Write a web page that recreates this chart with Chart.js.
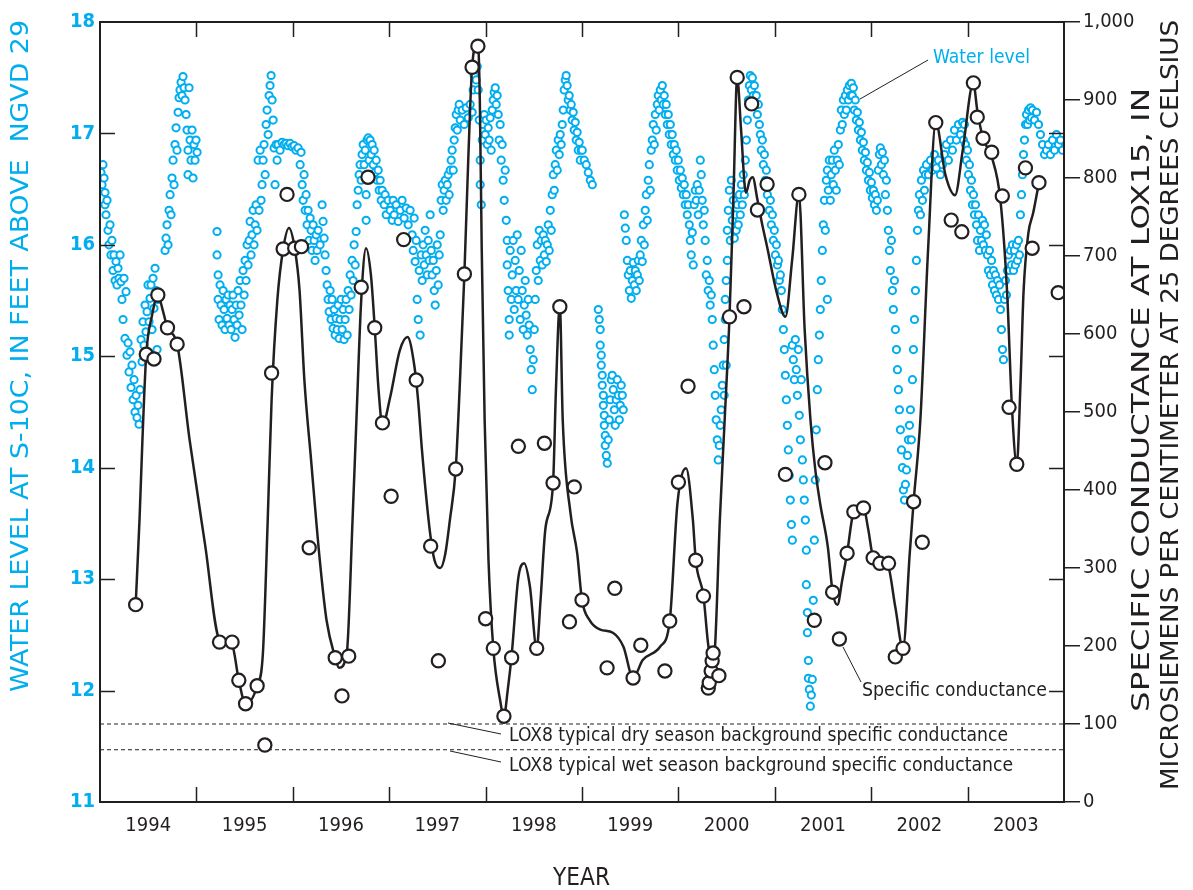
<!DOCTYPE html>
<html>
<head>
<meta charset="utf-8">
<script src="https://cdn.jsdelivr.net/npm/chart.js@4.4.1/dist/chart.umd.min.js"></script>
<style>
  html, body { margin: 0; padding: 0; background: #fff; }
  #chart { display: block; }
</style>
</head>
<body>
<canvas id="chart" width="1193" height="890"></canvas>
<script>
/*===== DATA =====*/
const years = [1994, 1995, 1996, 1997, 1998, 1999, 2000, 2001, 2002, 2003];
const levelTicks = [11, 12, 13, 14, 15, 16, 17, 18];
const condTicks = [0, 100, 200, 300, 400, 500, 600, 700, 800, 900, 1000];

// LOX8 typical background specific conductance
const dryBackground = 100;
const wetBackground = 67;

// water level at S-10C, [decimal year, feet above NGVD 29]
const waterLevel = [
  [1994.010,16.65],[1994.021,16.54],[1994.031,16.72],[1994.042,16.60],[1994.052,16.47],[1994.052,16.36],[1994.062,16.27],[1994.073,16.40],
  [1994.083,16.13],[1994.093,16.00],[1994.104,16.18],[1994.114,15.91],[1994.124,16.04],[1994.135,15.77],[1994.145,15.91],[1994.156,15.68],
  [1994.166,15.85],[1994.176,15.64],[1994.187,15.79],[1994.197,15.70],[1994.208,15.91],[1994.218,15.67],[1994.228,15.51],[1994.239,15.33],
  [1994.249,15.70],[1994.259,15.16],[1994.270,15.58],[1994.280,15.01],[1994.291,15.12],[1994.301,14.86],[1994.311,15.04],[1994.322,14.72],
  [1994.332,14.92],[1994.343,14.61],[1994.353,14.79],[1994.363,14.50],[1994.374,14.65],[1994.384,14.45],[1994.394,14.56],[1994.405,14.39],
  [1994.415,14.70],[1994.426,15.15],[1994.436,14.95],[1994.446,15.31],[1994.457,15.10],[1994.467,15.46],[1994.477,15.22],[1994.488,15.40],
  [1994.498,15.64],[1994.509,15.31],[1994.519,15.52],[1994.529,15.64],[1994.540,15.24],[1994.550,15.70],[1994.560,15.43],[1994.571,15.79],
  [1994.581,15.59],[1994.592,15.06],[1994.602,15.51],
  [1994.675,15.95],[1994.685,16.06],[1994.695,16.18],[1994.706,16.00],[1994.716,16.31],[1994.727,16.45],[1994.737,16.27],[1994.747,16.60],
  [1994.758,16.76],[1994.768,16.54],[1994.778,16.90],[1994.789,17.05],[1994.799,16.85],[1994.810,17.19],[1994.820,17.32],[1994.830,17.39],
  [1994.841,17.46],[1994.851,17.34],[1994.861,17.51],[1994.872,17.41],[1994.882,17.30],[1994.893,17.17],[1994.903,17.03],[1994.913,16.85],
  [1994.913,16.63],[1994.924,17.41],[1994.934,16.94],[1994.944,16.76],[1994.955,17.03],[1994.965,16.60],[1994.975,16.90],[1994.986,16.76],
  [1994.996,16.94],[1995.007,16.83],
  [1995.214,16.12],[1995.214,15.91],[1995.225,15.73],[1995.225,15.51],[1995.235,15.33],[1995.245,15.64],[1995.256,15.46],[1995.266,15.28],
  [1995.277,15.59],[1995.287,15.42],[1995.297,15.24],[1995.308,15.51],[1995.318,15.34],[1995.329,15.55],[1995.339,15.28],[1995.349,15.46],
  [1995.360,15.24],[1995.370,15.42],[1995.380,15.55],[1995.391,15.33],[1995.401,15.17],[1995.412,15.46],[1995.422,15.28],[1995.432,15.59],
  [1995.443,15.37],[1995.453,15.68],[1995.463,15.46],[1995.474,15.24],[1995.484,15.77],[1995.495,15.55],[1995.505,15.86],[1995.515,15.68],
  [1995.526,16.00],[1995.536,15.82],[1995.547,16.04],[1995.557,16.21],[1995.567,15.91],[1995.577,16.09],[1995.588,16.31],[1995.598,16.00],
  [1995.609,16.18],[1995.619,16.36],[1995.629,16.13],[1995.640,16.76],[1995.650,16.31],[1995.661,16.85],[1995.671,16.40],[1995.681,16.54],
  [1995.692,16.76],[1995.702,16.90],[1995.713,16.63],[1995.723,17.08],[1995.733,17.21],[1995.744,16.99],[1995.754,17.34],[1995.764,17.43],
  [1995.775,17.52],[1995.785,17.30],[1995.796,17.12],[1995.806,16.87],[1995.816,16.54],[1995.827,16.90],[1995.837,16.76],[1995.847,16.90],
  [1995.868,16.85],[1995.889,16.92],[1995.910,16.90],[1995.930,16.91],[1995.951,16.89],[1995.972,16.91],[1995.993,16.88],[1996.014,16.89],
  [1996.034,16.85],[1996.055,16.87],[1996.076,16.72],[1996.086,16.83],[1996.097,16.54],[1996.107,16.40],[1996.117,16.63],[1996.128,16.31],
  [1996.138,16.45],[1996.148,16.18],[1996.159,16.31],[1996.169,16.04],[1996.180,16.24],[1996.190,16.13],[1996.200,15.95],[1996.211,16.18],
  [1996.221,16.04],[1996.231,15.86],[1996.242,16.09],[1996.252,15.95],[1996.263,16.13],[1996.283,16.00],
  [1996.304,16.36],[1996.314,16.21],[1996.325,16.06],[1996.335,15.91],[1996.345,15.77],[1996.356,15.64],[1996.366,15.51],[1996.377,15.40],
  [1996.387,15.59],[1996.397,15.33],[1996.408,15.51],[1996.418,15.25],[1996.429,15.42],[1996.439,15.19],[1996.449,15.34],[1996.460,15.24],
  [1996.470,15.46],[1996.481,15.16],[1996.491,15.33],[1996.501,15.51],[1996.512,15.24],[1996.522,15.42],[1996.532,15.15],[1996.543,15.33],
  [1996.553,15.51],[1996.564,15.19],[1996.574,15.59],[1996.584,15.42],[1996.595,15.73],[1996.605,15.55],[1996.615,15.86],[1996.626,15.68],
  [1996.636,16.00],[1996.647,15.82],[1996.657,16.12],[1996.667,16.36],[1996.678,16.49],[1996.688,16.63],[1996.698,16.72],[1996.709,16.58],
  [1996.719,16.81],[1996.730,16.90],[1996.740,16.72],[1996.751,16.85],[1996.761,16.45],[1996.761,16.22],[1996.771,16.94],[1996.782,16.96],
  [1996.792,16.76],[1996.802,16.94],[1996.813,16.81],[1996.823,16.90],[1996.834,16.72],[1996.844,16.85],[1996.854,16.65],[1996.865,16.76],
  [1996.875,16.58],[1996.886,16.67],[1996.896,16.49],[1996.906,16.58],[1996.917,16.40],[1996.927,16.49],[1996.948,16.36],[1996.958,16.45],
  [1996.969,16.27],[1996.989,16.40],[1997.010,16.31],[1997.031,16.22],[1997.041,16.40],[1997.051,16.27],[1997.072,16.36],[1997.093,16.21],
  [1997.114,16.31],[1997.134,16.40],[1997.155,16.24],[1997.176,16.33],[1997.197,16.18],[1997.217,16.31],[1997.238,16.09],[1997.249,15.95],
  [1997.259,16.24],[1997.269,15.85],[1997.280,16.04],[1997.290,15.51],[1997.301,15.33],[1997.311,15.77],[1997.321,15.19],[1997.332,15.91],
  [1997.342,15.68],[1997.352,16.00],[1997.363,15.82],[1997.373,16.13],[1997.384,15.91],[1997.394,15.73],[1997.405,16.04],[1997.415,15.86],
  [1997.425,16.27],[1997.436,15.95],[1997.446,15.73],[1997.457,15.86],[1997.467,15.59],[1997.477,15.46],[1997.488,15.77],[1997.498,16.00],
  [1997.508,15.64],[1997.519,15.91],[1997.529,16.09],[1997.539,16.40],[1997.550,16.54],[1997.560,16.31],[1997.570,16.49],[1997.581,16.58],
  [1997.591,16.40],[1997.602,16.54],[1997.612,16.63],[1997.622,16.45],[1997.633,16.67],[1997.643,16.76],[1997.653,16.85],[1997.664,16.67],
  [1997.674,16.94],[1997.685,17.05],[1997.695,17.17],[1997.706,17.03],[1997.716,17.21],[1997.726,17.26],[1997.737,17.12],[1997.758,17.21],
  [1997.778,17.08],[1997.799,17.23],[1997.820,17.14],[1997.840,17.26],[1997.861,17.19],[1997.871,17.39],[1997.882,17.52],[1997.892,17.59],
  [1997.903,17.48],[1997.913,17.60],[1997.923,17.39],[1997.934,17.12],[1997.944,16.76],[1997.944,16.54],[1997.955,16.36],[1997.965,16.94],
  [1997.975,17.08],[1997.986,17.17],[1997.996,16.99],[1998.006,17.12],[1998.017,16.90],[1998.027,17.05],[1998.037,16.94],[1998.048,17.14],
  [1998.058,16.85],[1998.069,17.21],[1998.079,17.30],[1998.089,17.37],[1998.100,17.41],[1998.110,17.26],[1998.120,17.34],[1998.131,17.17],
  [1998.141,16.94],[1998.151,17.08],[1998.162,16.76],[1998.172,16.90],[1998.182,16.58],[1998.193,16.40],[1998.203,16.67],[1998.214,16.22],
  [1998.224,16.04],[1998.224,15.82],[1998.234,15.59],[1998.245,15.33],[1998.245,15.19],[1998.255,15.95],[1998.266,15.51],[1998.276,15.73],
  [1998.286,16.04],[1998.297,15.42],[1998.307,15.86],[1998.317,15.59],[1998.328,16.09],[1998.338,15.51],[1998.349,15.77],[1998.359,15.33],
  [1998.369,15.95],[1998.380,15.59],[1998.390,15.24],[1998.401,15.46],[1998.411,15.68],[1998.421,15.37],[1998.432,15.19],[1998.442,15.51],
  [1998.452,15.28],[1998.463,15.06],[1998.473,14.88],[1998.484,14.70],[1998.494,14.97],[1998.505,15.24],[1998.515,15.51],[1998.525,15.77],
  [1998.536,16.00],[1998.546,15.68],[1998.556,16.13],[1998.567,15.86],[1998.577,16.04],[1998.588,15.82],[1998.598,16.09],[1998.608,15.91],
  [1998.619,16.04],[1998.629,15.85],[1998.640,16.00],[1998.650,16.18],[1998.660,15.95],[1998.671,16.31],[1998.681,16.13],[1998.691,16.45],
  [1998.702,16.63],[1998.712,16.49],[1998.722,16.72],[1998.733,16.85],[1998.743,16.67],[1998.753,16.94],[1998.764,16.81],[1998.774,16.99],
  [1998.784,16.90],[1998.795,17.08],[1998.805,17.21],[1998.815,17.39],[1998.826,17.48],[1998.836,17.52],[1998.846,17.43],[1998.857,17.30],
  [1998.867,17.34],[1998.878,17.21],[1998.888,17.26],[1998.898,17.12],[1998.909,17.19],[1998.919,17.03],[1998.930,17.10],[1998.940,16.94],
  [1998.950,17.01],[1998.961,16.85],[1998.971,16.92],[1998.982,16.76],[1998.992,16.85],[1999.003,16.85],[1999.023,16.76],[1999.044,16.72],
  [1999.065,16.65],[1999.086,16.58],[1999.107,16.54],
  [1999.169,15.42],[1999.179,15.33],[1999.189,15.24],[1999.189,15.10],[1999.200,15.01],[1999.200,14.92],[1999.210,14.83],[1999.210,14.74],
  [1999.221,14.65],[1999.221,14.56],[1999.231,14.47],[1999.231,14.38],[1999.241,14.29],[1999.241,14.20],[1999.252,14.11],[1999.262,14.04],
  [1999.272,14.25],[1999.283,14.43],[1999.293,14.61],[1999.304,14.79],[1999.314,14.83],[1999.324,14.70],[1999.335,14.52],[1999.345,14.38],
  [1999.355,14.61],[1999.366,14.79],[1999.376,14.65],[1999.387,14.43],[1999.397,14.56],[1999.407,14.74],[1999.418,14.65],[1999.428,14.52],
  [1999.439,16.27],[1999.449,16.15],[1999.459,16.04],[1999.470,15.86],[1999.480,15.73],[1999.491,15.59],[1999.501,15.77],[1999.511,15.52],
  [1999.522,15.68],[1999.532,15.84],[1999.542,15.64],[1999.553,15.77],[1999.563,15.59],[1999.574,15.73],[1999.584,15.86],[1999.594,15.68],
  [1999.604,15.91],[1999.615,16.04],[1999.625,15.85],[1999.636,16.18],[1999.646,16.00],[1999.656,16.31],[1999.667,16.45],[1999.677,16.22],
  [1999.687,16.58],[1999.698,16.72],[1999.708,16.49],[1999.718,16.85],[1999.729,16.94],[1999.739,17.08],[1999.750,16.90],[1999.760,17.17],
  [1999.770,17.03],[1999.781,17.26],[1999.791,17.34],[1999.801,17.21],[1999.812,17.39],[1999.822,17.30],[1999.833,17.43],[1999.843,17.26],
  [1999.853,17.34],[1999.864,17.17],[1999.874,17.26],[1999.885,17.08],[1999.895,17.17],[1999.905,16.99],[1999.916,17.08],[1999.926,16.90],
  [1999.936,16.99],[1999.947,16.81],[1999.957,16.90],[1999.968,16.76],[1999.978,16.85],[1999.988,16.67],[1999.999,16.76],[2000.009,16.58],
  [2000.020,16.67],[2000.030,16.51],[2000.040,16.60],[2000.051,16.45],[2000.061,16.54],[2000.071,16.36],[2000.082,16.45],[2000.092,16.27],
  [2000.102,16.36],[2000.113,16.18],[2000.123,16.04],[2000.133,15.91],[2000.144,16.11],[2000.154,15.82],[2000.164,16.36],[2000.175,16.49],
  [2000.185,16.40],[2000.195,16.54],[2000.206,16.27],[2000.216,16.49],[2000.227,16.76],[2000.237,16.63],[2000.247,16.40],[2000.258,16.18],
  [2000.268,16.31],[2000.278,16.04],[2000.289,15.73],[2000.299,15.86],[2000.309,15.59],[2000.320,15.68],[2000.330,15.46],[2000.341,15.55],
  [2000.351,15.33],[2000.361,15.10],[2000.372,14.88],[2000.382,14.65],[2000.392,14.43],[2000.403,14.25],[2000.413,14.07],[2000.424,14.20],
  [2000.434,14.38],[2000.444,14.52],[2000.455,14.74],[2000.465,14.92],[2000.475,15.15],[2000.475,14.65],[2000.486,15.33],[2000.486,15.51],
  [2000.496,15.68],[2000.496,14.92],[2000.507,15.86],[2000.507,16.13],[2000.517,16.31],[2000.528,16.49],[2000.538,16.04],[2000.549,16.58],
  [2000.559,16.22],[2000.569,16.40],[2000.580,16.06],[2000.590,16.27],[2000.600,16.13],[2000.611,16.36],[2000.621,16.18],[2000.632,16.45],
  [2000.642,16.27],[2000.653,16.54],[2000.663,16.36],[2000.673,16.63],[2000.684,16.45],[2000.694,16.76],[2000.705,16.94],[2000.715,17.12],
  [2000.726,17.30],[2000.736,17.43],[2000.746,17.52],[2000.757,17.39],[2000.767,17.50],[2000.777,17.34],[2000.788,17.43],[2000.798,17.26],
  [2000.808,17.34],[2000.819,17.17],[2000.829,17.26],[2000.840,17.08],[2000.850,16.99],[2000.860,16.85],[2000.871,16.94],[2000.881,16.72],
  [2000.892,16.81],[2000.902,16.58],[2000.912,16.67],[2000.923,16.45],[2000.933,16.54],[2000.943,16.31],[2000.954,16.40],[2000.964,16.18],
  [2000.975,16.27],[2000.985,16.04],[2000.995,16.13],[2001.006,15.91],[2001.016,16.00],[2001.027,15.82],[2001.037,15.86],[2001.047,15.68],
  [2001.058,15.73],[2001.068,15.59],[2001.078,15.42],[2001.089,15.24],[2001.099,15.06],[2001.109,14.83],[2001.120,14.61],[2001.130,14.38],
  [2001.140,14.16],[2001.151,13.93],[2001.161,13.71],[2001.172,13.49],[2001.182,13.35],[2001.182,15.10],[2001.192,14.97],[2001.203,14.79],
  [2001.213,15.15],[2001.223,14.88],[2001.234,14.65],[2001.244,15.06],[2001.254,14.47],[2001.265,14.25],[2001.275,14.79],[2001.286,14.07],
  [2001.296,13.89],[2001.306,13.71],[2001.317,13.53],[2001.327,13.26],[2001.327,12.95],[2001.338,12.70],[2001.338,12.52],[2001.348,12.27],
  [2001.348,12.11],[2001.358,12.01],[2001.369,11.86],[2001.379,11.96],[2001.389,12.10],[2001.399,12.81],[2001.410,13.35],[2001.420,13.89],
  [2001.430,14.34],[2001.441,14.70],[2001.451,14.97],[2001.462,15.19],[2001.472,15.42],[2001.482,15.68],[2001.493,15.95],[2001.503,16.18],
  [2001.514,16.40],[2001.524,16.13],[2001.534,16.58],[2001.545,15.51],[2001.545,16.67],[2001.555,16.49],[2001.565,16.76],[2001.576,16.40],
  [2001.586,16.63],[2001.597,16.76],[2001.607,16.54],[2001.617,16.85],[2001.628,16.67],[2001.638,16.49],[2001.648,16.76],[2001.659,16.90],
  [2001.669,16.72],[2001.680,17.03],[2001.690,17.21],[2001.700,17.08],[2001.711,17.30],[2001.721,17.17],[2001.732,17.34],[2001.742,17.21],
  [2001.753,17.39],[2001.763,17.30],[2001.773,17.43],[2001.784,17.34],[2001.794,17.45],[2001.804,17.34],[2001.815,17.41],[2001.825,17.21],
  [2001.835,17.30],[2001.846,17.12],[2001.856,17.19],[2001.867,17.03],[2001.877,17.10],[2001.888,16.94],[2001.898,17.01],[2001.908,16.85],
  [2001.919,16.92],[2001.929,16.76],[2001.940,16.83],[2001.950,16.67],[2001.960,16.74],[2001.971,16.58],[2001.981,16.65],[2001.991,16.49],
  [2002.002,16.56],[2002.012,16.42],[2002.023,16.49],[2002.033,16.36],[2002.043,16.45],[2002.054,16.31],[2002.064,16.40],[2002.074,16.67],
  [2002.085,16.81],[2002.095,16.87],[2002.106,16.72],[2002.116,16.83],[2002.126,16.63],[2002.137,16.76],[2002.147,16.45],[2002.157,16.58],
  [2002.168,16.31],[2002.178,16.13],[2002.189,15.95],[2002.199,15.77],[2002.210,16.04],[2002.220,15.59],[2002.230,15.42],[2002.241,15.68],
  [2002.251,15.24],[2002.262,15.06],[2002.272,14.88],[2002.282,14.70],[2002.293,14.52],[2002.303,14.34],[2002.314,14.16],[2002.324,14.00],
  [2002.334,13.80],[2002.345,13.71],[2002.355,13.85],[2002.366,13.98],[2002.376,14.11],[2002.386,14.25],[2002.397,14.38],[2002.407,14.52],
  [2002.417,14.25],[2002.428,14.79],[2002.438,15.06],[2002.449,15.33],[2002.459,15.59],[2002.469,15.86],[2002.480,16.13],[2002.490,16.31],
  [2002.500,16.45],[2002.511,16.27],[2002.521,16.58],[2002.532,16.40],[2002.542,16.67],[2002.552,16.49],[2002.563,16.63],[2002.573,16.72],
  [2002.594,16.63],[2002.615,16.76],[2002.635,16.67],[2002.656,16.81],[2002.677,16.69],[2002.698,16.76],[2002.718,16.63],[2002.739,16.72],
  [2002.760,16.81],[2002.780,16.90],[2002.801,16.76],[2002.822,16.94],[2002.843,16.85],[2002.864,17.03],[2002.884,16.94],[2002.905,17.08],
  [2002.926,16.99],[2002.947,17.10],[2002.957,16.94],[2002.967,17.08],[2002.978,16.90],[2002.988,16.76],[2002.999,16.85],[2003.009,16.63],
  [2003.019,16.72],[2003.030,16.49],[2003.040,16.58],[2003.050,16.36],[2003.061,16.45],[2003.071,16.27],[2003.082,16.36],[2003.092,16.18],
  [2003.102,16.04],[2003.113,16.27],[2003.123,15.95],[2003.133,16.13],[2003.144,16.04],[2003.154,16.22],[2003.164,16.00],[2003.175,16.18],
  [2003.185,15.95],[2003.195,16.09],[2003.206,15.91],[2003.216,15.77],[2003.227,15.95],[2003.237,15.73],[2003.248,15.86],[2003.258,15.64],
  [2003.268,15.77],[2003.279,15.59],[2003.289,15.73],[2003.299,15.55],[2003.310,15.68],[2003.320,15.51],[2003.331,15.64],[2003.341,15.42],
  [2003.351,15.24],[2003.362,15.06],[2003.372,14.97],[2003.383,15.51],[2003.393,15.68],[2003.403,15.55],[2003.413,15.77],[2003.424,15.91],
  [2003.434,15.77],[2003.445,15.95],[2003.455,15.82],[2003.465,16.00],[2003.476,15.77],[2003.486,15.95],[2003.496,15.82],[2003.507,16.00],
  [2003.517,15.86],[2003.528,16.04],[2003.538,15.91],[2003.548,16.27],[2003.559,16.45],[2003.569,16.63],[2003.580,16.81],[2003.590,16.94],
  [2003.601,17.08],[2003.611,17.17],[2003.622,17.08],[2003.632,17.21],[2003.642,17.12],[2003.653,17.23],[2003.663,17.14],[2003.673,17.21],
  [2003.694,17.12],[2003.715,17.19],[2003.736,17.08],[2003.756,16.99],[2003.777,16.90],[2003.798,16.81],[2003.819,16.85],[2003.839,16.90],
  [2003.860,16.81],[2003.881,16.94],[2003.902,16.85],[2003.922,16.99],[2003.943,16.90],[2003.964,16.94],[2003.984,16.85]
];

// specific conductance at LOX15, samples, [decimal year, microsiemens per centimeter]
const condSamples = [
  [1994.37,253],[1994.48,574],[1994.56,568],[1994.60,650],[1994.70,608],[1994.80,587],
  [1995.24,205],[1995.37,205],[1995.44,156],[1995.51,126],[1995.63,149],[1995.71,73],[1995.78,550],[1995.90,709],[1995.94,779],
  [1996.02,710],[1996.09,712],[1996.17,326],[1996.44,185],[1996.51,136],[1996.58,187],[1996.71,660],[1996.78,801],[1996.85,608],[1996.93,486],
  [1997.02,392],[1997.15,721],[1997.28,541],[1997.43,328],[1997.51,181],[1997.69,427],[1997.78,677],[1997.86,942],[1997.92,969],
  [1998.00,235],[1998.08,197],[1998.19,110],[1998.27,185],[1998.34,456],[1998.53,197],[1998.61,460],[1998.70,409],[1998.77,635],[1998.87,231],[1998.92,404],
  [1999.00,259],[1999.26,172],[1999.34,274],[1999.53,159],[1999.61,201],[1999.86,168],[1999.91,232],
  [2000.00,410],[2000.10,533],[2000.18,310],[2000.26,264],[2000.31,146],[2000.32,153],[2000.34,168],[2000.35,181],[2000.36,191],[2000.42,162],
  [2000.53,622],[2000.61,929],[2000.68,635],[2000.76,895],[2000.82,759],[2000.92,792],
  [2001.11,420],[2001.25,779],[2001.41,233],[2001.52,435],[2001.60,269],[2001.67,209],[2001.75,319],[2001.82,372],[2001.92,377],
  [2002.02,313],[2002.09,306],[2002.18,306],[2002.25,186],[2002.33,197],[2002.44,385],[2002.53,333],[2002.67,871],[2002.83,746],[2002.94,731],
  [2003.06,922],[2003.10,878],[2003.16,851],[2003.25,833],[2003.36,777],[2003.43,506],[2003.51,433],[2003.60,813],[2003.67,710],[2003.74,794],[2003.94,653]
];

// smoothed specific conductance curve, [decimal year, microsiemens per centimeter]
const condSmooth = [
  [1994.37,253],[1994.41,362],[1994.44,464],[1994.48,574],[1994.54,624],[1994.60,650],[1994.65,631],[1994.70,608],[1994.80,587],
  [1994.93,464],[1995.09,330],[1995.24,208],[1995.37,201],[1995.44,156],[1995.51,126],[1995.63,149],[1995.69,191],[1995.74,362],
  [1995.78,515],[1995.84,644],[1995.90,709],[1995.96,736],[1996.02,710],[1996.07,656],[1996.12,541],[1996.19,438],[1996.28,310],
  [1996.35,233],[1996.44,185],[1996.48,172],[1996.56,191],[1996.62,362],[1996.66,490],[1996.71,644],[1996.76,710],[1996.81,676],
  [1996.85,608],[1996.89,528],[1996.93,483],[1997.01,519],[1997.11,579],[1997.19,596],[1997.26,560],[1997.30,515],[1997.34,451],
  [1997.42,349],[1997.47,310],[1997.53,300],[1997.58,317],[1997.63,362],[1997.69,427],[1997.73,528],[1997.78,677],[1997.82,823],
  [1997.86,942],[1997.92,974],[1997.94,900],[1997.96,708],[1997.99,490],[1998.03,310],[1998.08,197],[1998.15,131],[1998.19,110],
  [1998.23,144],[1998.27,188],[1998.34,288],[1998.40,306],[1998.46,276],[1998.53,197],[1998.57,259],[1998.62,350],[1998.70,409],
  [1998.73,530],[1998.77,637],[1998.80,490],[1998.88,371],[1998.95,319],[1999.00,259],[1999.08,233],[1999.19,221],[1999.32,217],
  [1999.43,199],[1999.53,159],[1999.63,182],[1999.81,199],[1999.91,232],[1999.99,383],[2000.08,428],[2000.15,362],[2000.18,310],
  [2000.26,264],[2000.31,201],[2000.35,179],[2000.38,199],[2000.43,362],[2000.48,490],[2000.53,622],[2000.57,772],[2000.61,929],
  [2000.65,862],[2000.70,781],[2000.74,797],[2000.77,801],[2000.82,772],[2000.87,740],[2000.92,712],[2001.02,653],[2001.11,622],
  [2001.18,695],[2001.25,779],[2001.31,605],[2001.37,490],[2001.42,426],[2001.47,383],[2001.55,327],[2001.60,269],[2001.65,253],
  [2001.70,285],[2001.75,319],[2001.82,372],[2001.92,377],[2001.97,349],[2002.02,314],[2002.12,306],[2002.17,304],[2002.25,250],
  [2002.33,197],[2002.40,319],[2002.44,385],[2002.51,490],[2002.59,708],[2002.67,871],[2002.77,804],[2002.87,778],[2002.95,836],
  [2003.06,922],[2003.10,887],[2003.16,851],[2003.25,827],[2003.34,772],[2003.41,653],[2003.46,506],[2003.51,433],[2003.55,541],
  [2003.58,653],[2003.63,729],[2003.68,755],[2003.74,794]
];

/*===== STYLE =====*/
const CYAN = '#00aeef';
const INK = '#231f20';
const FONT = "'Liberation Sans Narrow', 'DejaVu Sans Condensed', 'Arial Narrow', sans-serif";

const toXY = arr => arr.map(([x, y]) => ({x, y}));
const hline = v => [{x: 1994, y: v}, {x: 2004, y: v}];

Chart.defaults.font.family = FONT;
Chart.defaults.color = INK;

// draw text squeezed/stretched to a given width, optional rotation
function fitText(ctx, text, x, y, width, font, color, angle) {
    ctx.save();
    ctx.font = font;
    ctx.fillStyle = color;
    ctx.textAlign = 'left';
    ctx.textBaseline = 'middle';
    ctx.translate(x, y);
    if (angle) ctx.rotate(angle);
    const w = ctx.measureText(text).width;
    ctx.scale(width / w, 1);
    ctx.fillText(text, 0, 0);
    ctx.restore();
}

function leader(ctx, x1, y1, x2, y2) {
    ctx.beginPath();
    ctx.moveTo(x1, y1);
    ctx.lineTo(x2, y2);
    ctx.stroke();
}

/*===== FRAME, INNER TICKS, LABELS =====*/
const decorations = {
    id: 'decorations',
    afterDatasetsDraw(chart) {
        const {ctx, chartArea: a, scales} = chart;
        const x = scales.x, yL = scales.yL;
        ctx.save();
        ctx.strokeStyle = INK;
        ctx.lineWidth = 1.5;
        ctx.beginPath();
        years.slice(1).forEach(yr => {
            const px = Math.round(x.getPixelForValue(yr)) + 0.5;
            ctx.moveTo(px, a.top); ctx.lineTo(px, a.top + 15);
            ctx.moveTo(px, a.bottom); ctx.lineTo(px, a.bottom - 15);
        });
        levelTicks.slice(1, -1).forEach(v => {
            const py = Math.round(yL.getPixelForValue(v)) + 0.5;
            ctx.moveTo(a.left, py); ctx.lineTo(a.left + 15, py);
            ctx.moveTo(a.right, py); ctx.lineTo(a.right - 15, py);
        });
        ctx.stroke();

        ctx.lineWidth = 2;
        ctx.strokeRect(a.left, a.top, a.right - a.left, a.bottom - a.top);

        // leaders
        ctx.lineWidth = 1;
        leader(ctx, 928, 60, 860, 99);
        leader(ctx, 843, 647, 861, 682);
        leader(ctx, 448, 723, 501, 734);
        leader(ctx, 450, 751, 501, 762);

        // annotations
        fitText(ctx, 'Water level', 933, 58, 97, '20px ' + FONT, CYAN);
        fitText(ctx, 'Specific conductance', 862, 691, 185, '19px ' + FONT, INK);
        fitText(ctx, 'LOX8 typical dry season background specific conductance', 509, 736, 499, '19px ' + FONT, INK);
        fitText(ctx, 'LOX8 typical wet season background specific conductance', 509, 766, 504, '19px ' + FONT, INK);

        // axis titles
        fitText(ctx, 'YEAR', 553, 879, 57, '24px ' + FONT, INK);
        fitText(ctx, 'WATER LEVEL AT S-10C, IN FEET ABOVE  NGVD 29', 22, 692, 672, '24px ' + FONT, CYAN, -Math.PI / 2);
        fitText(ctx, 'SPECIFIC CONDUCTANCE AT LOX15, IN', 1143, 712, 624, '24px ' + FONT, INK, -Math.PI / 2);
        fitText(ctx, 'MICROSIEMENS PER CENTIMETER AT 25 DEGREES CELSIUS', 1172, 790, 770, '24px ' + FONT, INK, -Math.PI / 2);
        ctx.restore();
    }
};

/*===== CHART =====*/
const ctx = document.getElementById('chart').getContext('2d');
const chart = new Chart(ctx, {
    type: 'scatter',
    data: {
        datasets: [
            {
                label: 'Dry season background',
                data: hline(dryBackground),
                yAxisID: 'yR',
                showLine: true,
                borderColor: INK,
                borderWidth: 1,
                borderDash: [4, 3],
                pointRadius: 0,
                order: 5
            },
            {
                label: 'Wet season background',
                data: hline(wetBackground),
                yAxisID: 'yR',
                showLine: true,
                borderColor: INK,
                borderWidth: 1,
                borderDash: [4, 3],
                pointRadius: 0,
                order: 5
            },
            {
                label: 'Water level',
                data: toXY(waterLevel),
                yAxisID: 'yL',
                pointRadius: 3.6,
                pointBorderWidth: 2,
                pointBorderColor: CYAN,
                pointBackgroundColor: '#ffffff',
                order: 3
            },
            {
                label: 'Specific conductance (smoothed)',
                data: toXY(condSmooth),
                yAxisID: 'yR',
                showLine: true,
                cubicInterpolationMode: 'monotone',
                borderColor: INK,
                borderWidth: 2.5,
                pointRadius: 0,
                order: 2
            },
            {
                label: 'Specific conductance',
                data: toXY(condSamples),
                yAxisID: 'yR',
                pointRadius: 6.6,
                pointBorderWidth: 2.2,
                pointBorderColor: INK,
                pointBackgroundColor: '#ffffff',
                order: 1
            }
        ]
    },
    options: {
        responsive: false,
        animation: false,
        devicePixelRatio: 1,
        events: [],
        layout: { padding: { top: 22, left: 0, right: 0, bottom: 0 } },
        plugins: {
            legend: { display: false },
            tooltip: { enabled: false }
        },
        scales: {
            x: {
                type: 'linear',
                min: 1994,
                max: 2004,
                afterBuildTicks: s => { s.ticks = years.map(y => ({value: y + 0.5})); },
                ticks: {
                    callback: v => String(Math.floor(v)),
                    color: INK,
                    font: { size: 20 },
                    padding: 12,
                    maxRotation: 0,
                    autoSkip: false
                },
                grid: { display: false, drawTicks: false },
                border: { display: false },
                afterFit: s => { s.height = 88; }
            },
            yL: {
                type: 'linear',
                position: 'left',
                min: 11,
                max: 18,
                afterBuildTicks: s => { s.ticks = levelTicks.map(v => ({value: v})); },
                ticks: {
                    color: CYAN,
                    font: { size: 20, weight: 'bold' },
                    padding: 5
                },
                grid: { display: false, drawTicks: false },
                border: { display: false },
                afterFit: s => { s.width = 100; }
            },
            yR: {
                type: 'linear',
                position: 'right',
                min: 0,
                max: 1000,
                afterBuildTicks: s => { s.ticks = condTicks.map(v => ({value: v})); },
                ticks: {
                    color: INK,
                    font: { size: 20 },
                    padding: 3,
                    callback: v => v.toLocaleString('en-US')
                },
                grid: {
                    drawOnChartArea: false,
                    drawTicks: true,
                    tickLength: 16,
                    color: INK,
                    lineWidth: 1.5
                },
                border: { display: false },
                afterFit: s => { s.width = 129; }
            }
        }
    },
    plugins: [decorations]
});
</script>
</body>
</html>
